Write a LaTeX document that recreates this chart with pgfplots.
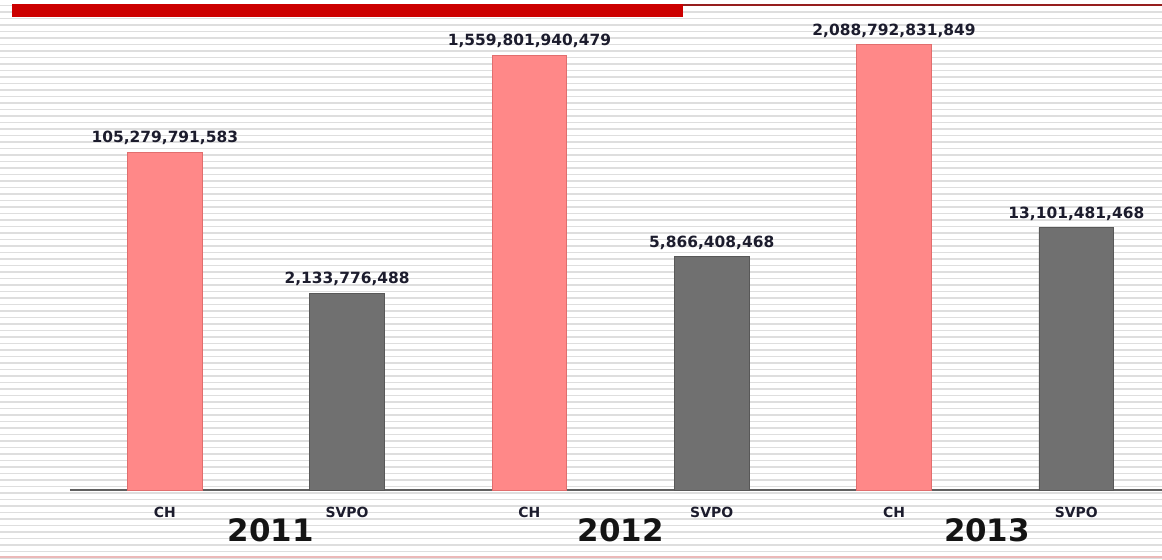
\documentclass[border=0pt]{standalone}
\usepackage{pgfplots}
\usepackage{pgfplotstable}
\pgfplotsset{compat=1.18}
\usepackage{fontspec}
\setmainfont{DejaVu Sans}
\definecolor{chpink}{RGB}{255,136,136}
\definecolor{chedge}{RGB}{225,110,110}
\definecolor{svgray}{RGB}{112,112,112}
\definecolor{svedge}{RGB}{88,88,88}
\definecolor{stripe}{RGB}{222,222,222}
\definecolor{labcol}{RGB}{28,28,45}
\definecolor{topred}{RGB}{204,0,0}
\definecolor{darkred}{RGB}{150,30,30}
\definecolor{bottompink}{RGB}{235,185,185}

\pgfplotstableread{
x y lab
0 1.05279791583e11 105,279,791,583
2 1.559801940479e12 1,559,801,940,479
4 2.088792831849e12 2,088,792,831,849
}\chtable
\pgfplotstableread{
x y lab
1 2.133776488e9 2,133,776,488
3 5.866408468e9 5,866,408,468
5 1.3101481468e10 13,101,481,468
}\svtable

\begin{document}
\begin{tikzpicture}[x=1bp,y=1bp]
\path[use as bounding box] (-70,-70) rectangle (1092,490);
\begin{scope}
\clip (-70,-70) rectangle (1092,490);
\fill[white] (-70,-70) rectangle (1092,490);
\foreach \k in {0,...,86} \draw[stripe, line width=1.5bp] (-70,{-68+6.5*\k}) -- (1092,{-68+6.5*\k});
\fill[topred] (-58,473) rectangle (613,486);
\draw[darkred, line width=1.5bp] (613,485) -- (1092,485);
\draw[bottompink, line width=1.2bp] (-70,-67) -- (1092,-67);
\end{scope}
\begin{axis}[
  at={(0,0)}, anchor=south west,
  scale only axis, width=1092bp, height=485bp,
  ymode=log, log origin=infty,
  ymin=9.057e6, ymax=6.31e12,
  xmin=-0.52, xmax=5.47,
  axis y line=none,
  axis x line=bottom,
  x axis line style={-, draw=gray!75!black, line width=1.3bp},
  xtick={0,1,2,3,4,5},
  xticklabels={CH,SVPO,CH,SVPO,CH,SVPO},
  major tick length=0pt,
  xticklabel style={font=\bfseries\fontsize{14}{14}\selectfont, text=labcol, anchor=north, inner sep=0pt, yshift=-17bp},
  ybar, bar width=0.41, bar shift=0pt,
  nodes near coords,
  point meta=explicit symbolic,
  every node near coord/.append style={font=\bfseries\fontsize{15.5}{15.5}\selectfont, text=labcol, anchor=south, inner sep=0pt, yshift=7bp},
  clip=false,
]
\addplot[fill=chpink, draw=chedge, line width=0.8bp] table[x=x, y=y, meta=lab] {\chtable};
\addplot[fill=svgray, draw=svedge, line width=0.8bp] table[x=x, y=y, meta=lab] {\svtable};
\node[font=\bfseries\fontsize{31}{31}\selectfont, text=black!92] at (axis cs:0.58,9.057e6) [yshift=-40bp] {2011};
\node[font=\bfseries\fontsize{31}{31}\selectfont, text=black!92] at (axis cs:2.50,9.057e6) [yshift=-40bp] {2012};
\node[font=\bfseries\fontsize{31}{31}\selectfont, text=black!92] at (axis cs:4.51,9.057e6) [yshift=-40bp] {2013};
\end{axis}
\end{tikzpicture}
\end{document}
